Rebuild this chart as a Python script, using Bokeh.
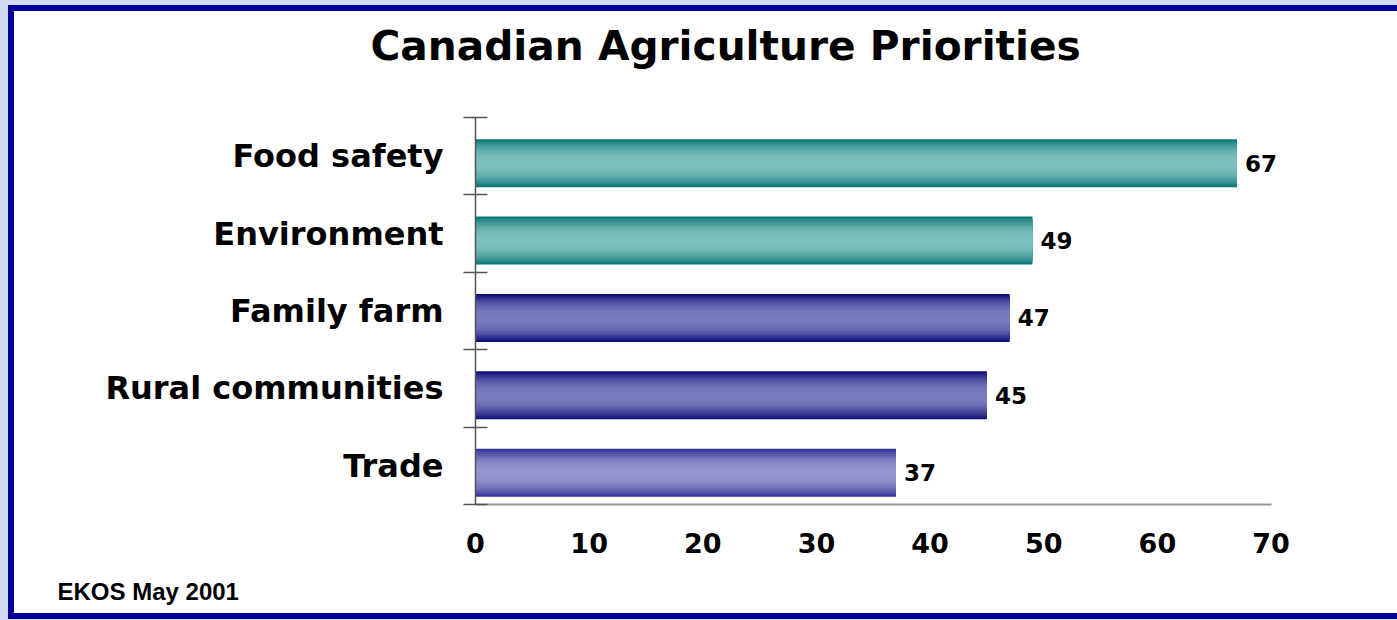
from bokeh.plotting import figure
from bokeh.models import ColumnDataSource, FixedTicker, Range1d, Title
from bokeh.core.properties import value
from bokeh.embed import file_html
from bokeh.resources import INLINE

# ---- data ----
title_text = "Canadian Agriculture Priorities"
source_note = "EKOS May 2001"
categories = ["Food safety", "Environment", "Family farm", "Rural communities", "Trade"]
values = [67, 49, 47, 45, 37]
x_ticks = [0, 10, 20, 30, 40, 50, 60, 70]

# ---- styles ----
edge_colors = ["#0b7774", "#0b7774", "#0e0e7a", "#0e0e7a", "#34349a"]
center_colors = ["#7cc0be", "#7cc0be", "#7a7abf", "#7a7abf", "#9494cc"]


def hex2rgb(h):
    h = h.lstrip("#")
    return tuple(int(h[i:i + 2], 16) for i in (0, 2, 4))


def mix(a, b, t):
    ra, rb = hex2rgb(a), hex2rgb(b)
    return "#%02x%02x%02x" % tuple(int(round(x + (y - x) * t)) for x, y in zip(ra, rb))


n = len(categories)
centers = [n - 1 - i + 0.5 for i in range(n)]
bar_y = [c - 0.09 for c in centers]

N_LAYERS = 14
BAR_H = 0.62
data = dict(y=bar_y, right=values, label=[str(v) for v in values])
for k in range(N_LAYERS):
    s = k / (N_LAYERS - 1)
    f = 1 - (1 - s) ** 2.2
    data["c%d" % k] = [mix(e, c, f) for e, c in zip(edge_colors, center_colors)]
src = ColumnDataSource(data)

p = figure(width=1389, height=614, x_range=Range1d(0, 74), y_range=Range1d(0, n),
           output_backend="svg", toolbar_location=None, title=None,
           min_border_left=461, min_border_right=87, min_border_top=106, min_border_bottom=121)
p.background_fill_color = None
p.border_fill_color = None
p.outline_line_color = None
p.xgrid.grid_line_color = None
p.ygrid.grid_line_color = None
p.styles = {"margin-left": "8px", "margin-top": "5px",
            "background-color": "white",
            "border-left": "6px solid #000099",
            "border-top": "6px solid #000099",
            "border-bottom": "6px solid #000099"}

for k in range(N_LAYERS):
    p.hbar(y="y", left=0, right="right", height=BAR_H * (1 - k / N_LAYERS),
           fill_color="c%d" % k, line_color=None, source=src)

p.text(x="right", y="y", text="label", x_offset=8, text_baseline="middle", text_align="left",
       text_font=value("DejaVu Sans"), text_font_style="bold", text_font_size="23px",
       text_color="black", source=src)

xa = p.xaxis[0]
xa.ticker = FixedTicker(ticks=x_ticks)
xa.bounds = (0, 70)
xa.axis_line_color = "#999999"
xa.axis_line_width = 2
xa.major_tick_line_color = None
xa.major_tick_in = 0
xa.major_tick_out = 0
xa.minor_tick_line_color = None
xa.major_label_standoff = 28
xa.major_label_text_font = "DejaVu Sans"
xa.major_label_text_font_style = "bold"
xa.major_label_text_font_size = "27px"
xa.major_label_text_color = "black"

ya = p.yaxis[0]
ya.ticker = FixedTicker(ticks=centers, minor_ticks=list(range(n + 1)))
ya.major_label_overrides = {c: cat for c, cat in zip(centers, categories)}
ya.major_tick_line_color = None
ya.major_tick_in = 0
ya.major_tick_out = 0
ya.minor_tick_in = 12
ya.minor_tick_out = 12
ya.minor_tick_line_color = "#555555"
ya.minor_tick_line_width = 1.5
ya.axis_line_color = "#555555"
ya.axis_line_width = 1.5
ya.major_label_standoff = 20
ya.major_label_text_font = "DejaVu Sans"
ya.major_label_text_font_style = "bold"
ya.major_label_text_font_size = "32px"
ya.major_label_text_color = "black"

# spacer between the frame and the title (first "above" item sits next to the frame)
p.add_layout(Title(text=" ", align="left", standoff=3, text_font="DejaVu Sans",
                   text_font_size="36px"), "above")
p.add_layout(Title(text=title_text, align="left", vertical_align="top", offset=-105,
                   standoff=0, text_font="DejaVu Sans", text_font_style="bold",
                   text_font_size="40.7px", text_color="black"), "above")
p.add_layout(Title(text=source_note, align="left", vertical_align="bottom", offset=-418,
                   standoff=40, text_font="Liberation Sans", text_font_style="bold",
                   text_font_size="24px", text_color="black"), "below")

html = file_html(p, INLINE)
html = html.replace("</head>", "<style>body{background-color:#d0dbf3;}</style></head>", 1)
open("out.html", "w").write(html)
